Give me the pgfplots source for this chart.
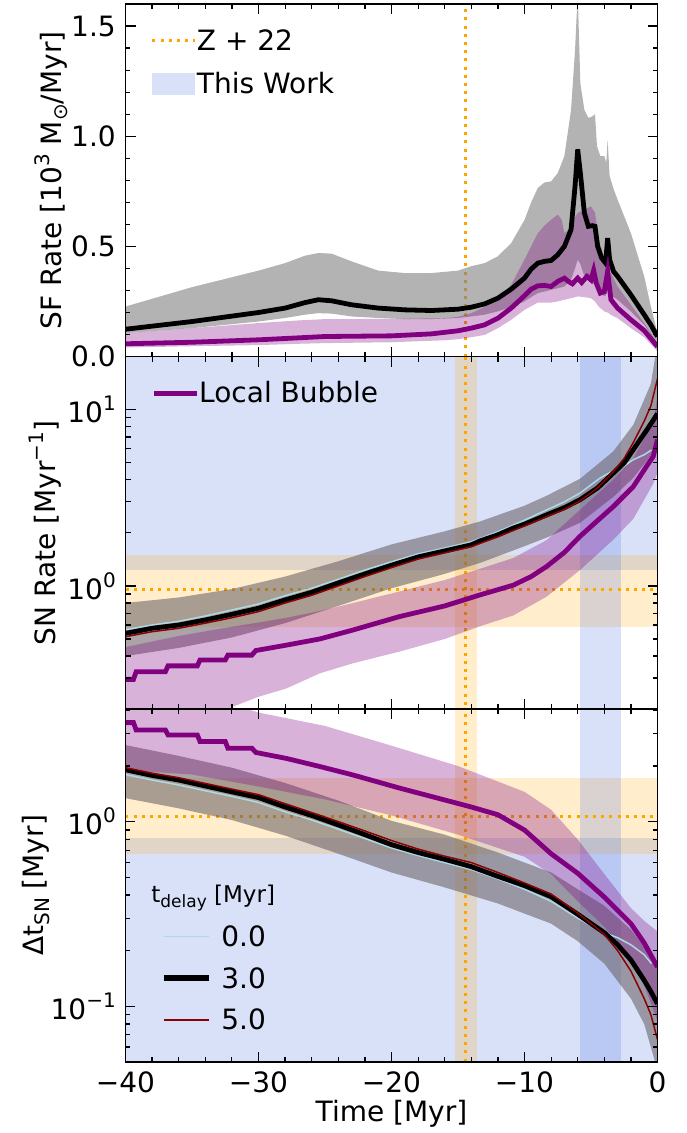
\documentclass[border=0pt]{standalone}
\usepackage{fontspec}
\setmainfont{DejaVu Sans}
\usepackage{pgfplots}
\pgfplotsset{compat=1.18}
\definecolor{mplorange}{RGB}{255,165,0}
\definecolor{royal}{RGB}{65,105,225}
\definecolor{mplpurple}{RGB}{128,0,128}
\definecolor{lblue}{RGB}{173,216,230}
\definecolor{dred}{RGB}{139,0,0}
\definecolor{bandgray}{RGB}{100,90,95}
\newcommand{\sups}[1]{\raisebox{0.42em}{\fontsize{10}{12}\selectfont #1}}
\newcommand{\subs}[1]{\raisebox{-0.22em}{\fontsize{10}{12}\selectfont #1}}
\pgfplotsset{
  panel/.style={
    scale only axis, width=266pt, height=176.28pt,
    xmin=-40, xmax=0, xtick={-40,-30,-20,-10,0}, minor x tick num=4,
    tick align=inside, major tick length=5pt, minor tick length=2.5pt,
    tick style={black, line width=0.6pt},
    axis line style={line width=0.8pt},
    axis on top, clip=true,
    /pgf/number format/assume math mode=true,
    tick label style={font=\fontsize{14}{16}\selectfont},
    label style={font=\fontsize{14}{16}\selectfont},
    legend cell align=left,
    legend style={draw=none, fill=none, inner sep=0pt, outer sep=0pt,
      row sep=8pt, column sep=0pt, font=\fontsize{14}{16}\selectfont,
      nodes={inner sep=0pt, text height=10.5pt, text depth=3pt}},
  },
  hline/.style={mplorange, line width=1.5pt, dash pattern=on 1.5pt off 2.6pt, forget plot},
}
\begin{document}
\fontsize{14}{17}\selectfont
\begin{tikzpicture}
%================ TOP PANEL =================
\begin{axis}[panel, at={(0pt,352.56pt)}, anchor=south west,
  ymin=0, ymax=1.6, ytick={0,0.5,1,1.5}, yticklabels={0.0,0.5,1.0,1.5},
  minor y tick num=4, xticklabels={},
  ylabel={SF Rate [10\sups{3} M\subs{⊙}/Myr]},
  every axis y label/.style={at={(axis description cs:-0.1212,0.5)}, anchor=base, rotate=90},
  legend style={at={(axis description cs:0.0479,0.9291)}, anchor=north west}]
\addlegendimage{legend image code/.code={\draw[mplorange,line width=1.5pt,dash pattern=on 1.5pt off 2.6pt] (0pt,0.85pt)--(21.5pt,0.85pt);}}
\addlegendentry{Z + 22}
\addlegendimage{legend image code/.code={\path[draw=none,fill=royal,fill opacity=0.2] (0pt,-4.6pt) rectangle (21.5pt,6.25pt);}}
\addlegendentry{This Work}
\addplot[hline] coordinates {(-14.4,0) (-14.4,1.6)};
% gray band
\addplot[draw=none, fill=gray, fill opacity=0.6, forget plot] coordinates {
(-40,0.227) (-35,0.315) (-30,0.39) (-28,0.424) (-26.5,0.458) (-25.5,0.47) (-24.5,0.467) (-23,0.432) (-21,0.39) (-19,0.379) (-17,0.379) (-15,0.39) (-14,0.41) (-13,0.424) (-12,0.455) (-11,0.515) (-10,0.62) (-9.5,0.7) (-9,0.765) (-8.5,0.79) (-8,0.795) (-7.5,0.833) (-7,0.91) (-6.5,1.12) (-6.2,1.39) (-6.0,1.65) (-5.8,1.24) (-5.5,1.12) (-5.2,1.083) (-4.9,1.09) (-4.7,1.1) (-4.55,0.955) (-4.3,0.91) (-4.0,0.91) (-3.85,0.88) (-3.75,0.985) (-3.6,0.82) (-3.3,0.76) (-3,0.712) (-2,0.56) (-1,0.364) (-0.5,0.227) (0,0.106)
(0,0.045) (-0.5,0.1) (-1,0.144) (-2,0.205) (-3,0.258) (-3.3,0.27) (-3.6,0.285) (-3.75,0.30) (-3.85,0.28) (-4.0,0.273) (-4.3,0.29) (-4.55,0.31) (-4.7,0.325) (-4.9,0.333) (-5.2,0.345) (-5.5,0.364) (-5.8,0.42) (-6.0,0.44) (-6.2,0.40) (-6.5,0.35) (-7,0.318) (-7.5,0.31) (-8,0.303) (-8.5,0.295) (-9,0.288) (-9.5,0.27) (-10,0.25) (-11,0.225) (-12,0.205) (-13,0.19) (-14,0.182) (-15,0.175) (-17,0.17) (-19,0.17) (-21,0.175) (-23,0.182) (-24.5,0.195) (-25.5,0.197) (-26.5,0.19) (-28,0.175) (-30,0.159) (-35,0.129) (-40,0.106)};
% purple band
\addplot[draw=none, fill=mplpurple, fill opacity=0.3, forget plot] coordinates {
(-40,0.106) (-35,0.129) (-30,0.152) (-27,0.164) (-25,0.17) (-20,0.171) (-16,0.174) (-15,0.18) (-14,0.197) (-13,0.225) (-12,0.258) (-11,0.326) (-10,0.44) (-9,0.56) (-8.5,0.594) (-8,0.621) (-7.5,0.644) (-7.2,0.621) (-7,0.56) (-6.7,0.576) (-6.3,0.621) (-6,0.652) (-5.5,0.667) (-5,0.682) (-4.7,0.652) (-4.4,0.53) (-4,0.44) (-3.75,0.39) (-3.5,0.379) (-3,0.318) (-2,0.235) (-1,0.152) (0,0.06)
(0,0.023) (-1,0.088) (-2,0.129) (-3,0.174) (-3.5,0.189) (-3.75,0.2) (-4,0.205) (-4.4,0.225) (-4.7,0.25) (-5,0.265) (-5.5,0.27) (-6,0.273) (-6.3,0.268) (-6.7,0.262) (-7,0.258) (-7.2,0.255) (-7.5,0.25) (-8,0.245) (-8.5,0.245) (-9,0.245) (-10,0.212) (-11,0.167) (-12,0.129) (-13,0.098) (-14,0.088) (-15,0.079) (-16,0.074) (-20,0.065) (-25,0.061) (-27,0.058) (-30,0.052) (-35,0.047) (-40,0.041)};
% black line
\addplot[black, line width=2.4pt, forget plot] coordinates {
(-40,0.124) (-35,0.159) (-30,0.2) (-28,0.22) (-26.5,0.245) (-25.5,0.258) (-24.5,0.253) (-23,0.235) (-21,0.22) (-19,0.212) (-17,0.209) (-15,0.215) (-14,0.224) (-13,0.239) (-12,0.265) (-11,0.306) (-10,0.356) (-9.5,0.397) (-9,0.424) (-8.5,0.432) (-8,0.436) (-7.5,0.462) (-7,0.5) (-6.5,0.576) (-6.2,0.773) (-6.0,0.94) (-5.8,0.833) (-5.5,0.652) (-5.2,0.591) (-4.9,0.594) (-4.7,0.591) (-4.5,0.5) (-4.2,0.447) (-3.9,0.424) (-3.75,0.538) (-3.6,0.44) (-3.3,0.386) (-3,0.364) (-2,0.28) (-1,0.19) (-0.5,0.144) (0,0.091)};
% purple line
\addplot[mplpurple, line width=2.4pt, forget plot] coordinates {
(-40,0.058) (-35,0.065) (-30,0.076) (-25,0.091) (-20,0.094) (-17,0.103) (-15,0.117) (-14,0.129) (-13,0.144) (-12,0.174) (-11,0.22) (-10,0.276) (-9.5,0.306) (-9,0.321) (-8.5,0.323) (-8,0.318) (-7.5,0.341) (-7,0.356) (-6.7,0.341) (-6.4,0.33) (-6.0,0.356) (-5.7,0.336) (-5.3,0.364) (-5.0,0.348) (-4.8,0.391) (-4.6,0.333) (-4.3,0.288) (-4.0,0.295) (-3.75,0.386) (-3.5,0.258) (-3,0.22) (-2,0.167) (-1,0.118) (0,0.045)};
\end{axis}
%================ MIDDLE PANEL =================
\begin{axis}[panel, at={(0pt,176.28pt)}, anchor=south west,
  ymode=log, ymin=0.2, ymax=20, ytick={1,10},
  yticklabels={10\sups{0},10\sups{1}},
  minor ytick={0.2,0.3,0.4,0.5,0.6,0.7,0.8,0.9,2,3,4,5,6,7,8,9,20},
  xticklabels={},
  ylabel={SN Rate [Myr\sups{−1}]},
  every axis y label/.style={at={(axis description cs:-0.1325,0.5)}, anchor=base, rotate=90},
  legend style={at={(axis description cs:0.0479,0.9282)}, anchor=north west}]
\addlegendimage{legend image code/.code={\draw[mplpurple,line width=2.6pt] (0pt,0.85pt)--(21.5pt,0.85pt);}}
\addlegendentry{Local Bubble}
% background spans
\addplot[draw=none, fill=royal, fill opacity=0.2, forget plot] coordinates {(-41,1.23) (1,1.23) (1,100) (-41,100)};
\addplot[draw=none, fill=mplorange, fill opacity=0.2, forget plot] coordinates {(-41,0.587) (1,0.587) (1,1.5) (-41,1.5)};
\addplot[draw=none, fill=mplorange, fill opacity=0.2, forget plot] coordinates {(-15.2,0.01) (-13.6,0.01) (-13.6,100) (-15.2,100)};
\addplot[draw=none, fill=royal, fill opacity=0.2, forget plot] coordinates {(-5.8,0.01) (-2.75,0.01) (-2.75,100) (-5.8,100)};
\addplot[hline] coordinates {(-40,0.949) (0,0.949)};
\addplot[hline] coordinates {(-14.4,0.1) (-14.4,30)};
% gray band
\addplot[draw=none, fill=bandgray, fill opacity=0.55, forget plot] coordinates {
(-40,0.80) (-36,0.86) (-32,0.96) (-28,1.13) (-24,1.38) (-20,1.72) (-16,2.04) (-13.35,2.32) (-10,2.85) (-8.33,3.25) (-5.83,4.05) (-3.32,5.8) (-1.82,8.2) (-0.5,14) (0,24)
(0,6.3) (-0.5,5.5) (-1.82,4.1) (-3.32,3.2) (-5.83,2.28) (-8.33,1.88) (-10,1.68) (-13.35,1.35) (-16,1.17) (-20,0.97) (-24,0.77) (-28,0.615) (-32,0.51) (-36,0.445) (-40,0.40)};
% purple band
\addplot[draw=none, fill=mplpurple, fill opacity=0.3, forget plot] coordinates {
(-40,0.45) (-36,0.52) (-32.4,0.58) (-30,0.62) (-27.9,0.66) (-25.4,0.72) (-22.9,0.8) (-19.4,0.93) (-16,1.08) (-13.35,1.25) (-10.84,1.44) (-8.33,1.82) (-5.83,2.7) (-3.32,4.0) (-1.82,5.3) (-0.32,8.5) (0,12)
(0,4.4) (-0.32,3.8) (-1.82,2.4) (-3.32,1.83) (-5.83,1.23) (-8.33,0.87) (-10.84,0.68) (-13.35,0.59) (-16,0.50) (-19.4,0.424) (-22.9,0.364) (-25.4,0.319) (-27.9,0.262) (-30,0.235) (-32.4,0.2) (-36,0.17) (-40,0.15)};
% lines
\addplot[lblue, line width=0.75pt, forget plot] coordinates {
(-40,0.565) (-38,0.60) (-36,0.63) (-34,0.675) (-32,0.73) (-30,0.79) (-28,0.88) (-26,0.97) (-24,1.09) (-22,1.23) (-20,1.37) (-18,1.52) (-16,1.64) (-14,1.78) (-12,2.03) (-10,2.36) (-8.33,2.7) (-7,3.0) (-5.83,3.36) (-4.3,4.1) (-3.32,4.5) (-2.5,4.8) (-1.82,5.2) (-1,5.55) (-0.45,5.9)};
\addplot[black, line width=2.4pt, forget plot] coordinates {
(-40,0.538) (-38,0.575) (-36,0.60) (-34,0.641) (-32,0.69) (-30,0.747) (-28,0.833) (-26,0.92) (-24,1.04) (-22,1.17) (-20,1.31) (-18,1.46) (-16,1.58) (-14,1.71) (-13.35,1.8) (-12,1.95) (-10.84,2.13) (-10,2.24) (-8.33,2.53) (-7,2.78) (-5.83,3.08) (-4.5,3.6) (-3.32,4.37) (-2.5,5.0) (-1.82,5.93) (-1,7.3) (-0.5,8.3) (0,9.5)};
\addplot[dred, line width=0.75pt, forget plot] coordinates {
(-40,0.515) (-38,0.55) (-36,0.575) (-34,0.615) (-32,0.66) (-30,0.715) (-28,0.80) (-26,0.885) (-24,1.0) (-22,1.13) (-20,1.27) (-18,1.42) (-16,1.54) (-14,1.67) (-12,1.9) (-10,2.19) (-8.33,2.47) (-7,2.72) (-5.83,3.03) (-4.5,3.6) (-3.32,4.45) (-2.5,5.3) (-1.82,6.5) (-1,8.6) (-0.5,10.5) (0,15)};
\addplot[mplpurple, line width=2.4pt, forget plot] coordinates {
(-40,0.295) (-39.4,0.295) (-39.2,0.326) (-37.0,0.326) (-36.8,0.352) (-34.6,0.352) (-34.4,0.38) (-32.5,0.38) (-32.3,0.405) (-30.5,0.405) (-30.2,0.43) (-28,0.46) (-25.4,0.50) (-22.9,0.562) (-19.4,0.67) (-16,0.77) (-13.35,0.889) (-10.84,1.01) (-9.5,1.13) (-8.33,1.29) (-7,1.55) (-5.83,1.91) (-4.5,2.35) (-3.32,2.82) (-1.82,3.66) (-0.8,4.8) (-0.32,5.43) (0,6.76)};
\end{axis}
%================ BOTTOM PANEL =================
\begin{axis}[panel, at={(0pt,0pt)}, anchor=south west,
  ymode=log, ymin=0.05, ymax=4.07, ytick={0.1,1},
  yticklabels={10\sups{−1},10\sups{0}},
  minor ytick={0.05,0.06,0.07,0.08,0.09,0.2,0.3,0.4,0.5,0.6,0.7,0.8,0.9,2,3,4},
  xticklabels={−40,−30,−20,−10,0},
  xlabel={Time [Myr]},
  every axis x label/.style={at={(axis description cs:0.5,-0.1702)}, anchor=base},
  ylabel={Δt\subs{SN} [Myr]},
  every axis y label/.style={at={(axis description cs:-0.155,0.5)}, anchor=base, rotate=90},
  legend style={at={(axis description cs:0.0662,0.3862)}, anchor=north west, column sep=4.85pt, row sep=7.35pt}]
\addlegendimage{legend image code/.code={\draw[lblue,line width=0.75pt] (0pt,1.25pt)--(22.65pt,1.25pt);}}
\addlegendentry{0.0}
\addlegendimage{legend image code/.code={\draw[black,line width=2.8pt] (0pt,1.25pt)--(22.65pt,1.25pt);}}
\addlegendentry{3.0}
\addlegendimage{legend image code/.code={\draw[dred,line width=0.75pt] (0pt,1.25pt)--(22.65pt,1.25pt);}}
\addlegendentry{5.0}
% background spans
\addplot[draw=none, fill=royal, fill opacity=0.2, forget plot] coordinates {(-41,0.01) (1,0.01) (1,0.812) (-41,0.812)};
\addplot[draw=none, fill=mplorange, fill opacity=0.2, forget plot] coordinates {(-41,0.668) (1,0.668) (1,1.72) (-41,1.72)};
\addplot[draw=none, fill=mplorange, fill opacity=0.2, forget plot] coordinates {(-15.2,0.01) (-13.6,0.01) (-13.6,100) (-15.2,100)};
\addplot[draw=none, fill=royal, fill opacity=0.2, forget plot] coordinates {(-5.8,0.01) (-2.75,0.01) (-2.75,100) (-5.8,100)};
\addplot[hline] coordinates {(-40,1.06) (0,1.06)};
\addplot[hline] coordinates {(-14.4,0.03) (-14.4,6)};
% gray band
\addplot[draw=none, fill=bandgray, fill opacity=0.55, forget plot] coordinates {
(-40,2.6) (-36,2.27) (-32,1.96) (-28,1.62) (-24,1.3) (-20,1.01) (-16,0.85) (-12,0.68) (-8,0.53) (-6,0.43) (-4,0.35) (-2,0.26) (-1,0.21) (0,0.17)
(0,0.045) (-1,0.08) (-2,0.11) (-4,0.17) (-6,0.225) (-8,0.28) (-12,0.36) (-16,0.44) (-20,0.53) (-24,0.67) (-28,0.84) (-32,1.02) (-36,1.18) (-40,1.34)};
% purple band
\addplot[draw=none, fill=mplpurple, fill opacity=0.3, forget plot] coordinates {
(-40,6) (-35,5.2) (-31,4.1) (-30,3.9) (-25,3.3) (-20,2.58) (-15,2.0) (-10,1.45) (-8,1.16) (-6,0.8) (-4,0.52) (-2,0.34) (-1,0.29) (0,0.254)
(0,0.083) (-1,0.13) (-2,0.18) (-4,0.27) (-6,0.37) (-8,0.52) (-10,0.645) (-15,0.85) (-20,1.08) (-25,1.32) (-30,1.55) (-35,1.8) (-40,1.9)};
% lines
\addplot[lblue, line width=0.75pt, forget plot] coordinates {
(-40,1.80) (-38,1.68) (-36,1.58) (-34,1.47) (-32,1.37) (-30,1.27) (-28,1.13) (-26,1.02) (-24,0.91) (-22,0.81) (-20,0.72) (-18,0.655) (-16,0.60) (-14,0.55) (-12,0.49) (-10,0.43) (-8,0.37) (-6,0.3) (-4,0.25) (-3,0.235) (-2,0.215) (-1,0.19) (-0.45,0.17)};
\addplot[black, line width=2.4pt, forget plot] coordinates {
(-40,1.91) (-38,1.78) (-36,1.68) (-34,1.56) (-32,1.45) (-30,1.35) (-28,1.2) (-26,1.08) (-24,0.96) (-22,0.85) (-20,0.75) (-18,0.68) (-16,0.625) (-14,0.57) (-12,0.505) (-10,0.45) (-8,0.392) (-6,0.315) (-4,0.25) (-3,0.215) (-2,0.178) (-1,0.138) (-0.5,0.12) (0,0.103)};
\addplot[dred, line width=0.75pt, forget plot] coordinates {
(-40,1.96) (-38,1.83) (-36,1.73) (-34,1.61) (-32,1.5) (-30,1.4) (-28,1.25) (-26,1.12) (-24,1.0) (-22,0.89) (-20,0.79) (-18,0.71) (-16,0.65) (-14,0.6) (-12,0.53) (-10,0.465) (-8,0.405) (-6,0.32) (-4,0.245) (-3,0.2) (-2,0.155) (-1,0.11) (-0.5,0.09) (0,0.066)};
\addplot[mplpurple, line width=2.4pt, forget plot] coordinates {
(-40,3.44) (-39.4,3.44) (-39.2,3.14) (-37.0,3.14) (-36.8,2.95) (-34.6,2.95) (-34.4,2.72) (-32.5,2.72) (-32.3,2.5) (-30.5,2.5) (-30.2,2.37) (-27.9,2.2) (-25.4,1.99) (-22.9,1.79) (-19.4,1.52) (-16,1.31) (-14,1.2) (-12,1.09) (-10,0.9) (-8,0.67) (-6,0.525) (-4,0.39) (-2,0.28) (-1,0.22) (0,0.163)};
\node[anchor=base west, inner sep=0pt, font=\fontsize{11.5}{14}\selectfont] at (axis description cs:0.0479,0.4506) {t\raisebox{-0.22em}{\fontsize{8.5}{10}\selectfont delay} [Myr]};
\end{axis}
\pgfresetboundingbox
\path[use as bounding box] (-62.75pt,-35.65pt) rectangle (280.25pt,530.85pt);
\end{tikzpicture}
\end{document}
